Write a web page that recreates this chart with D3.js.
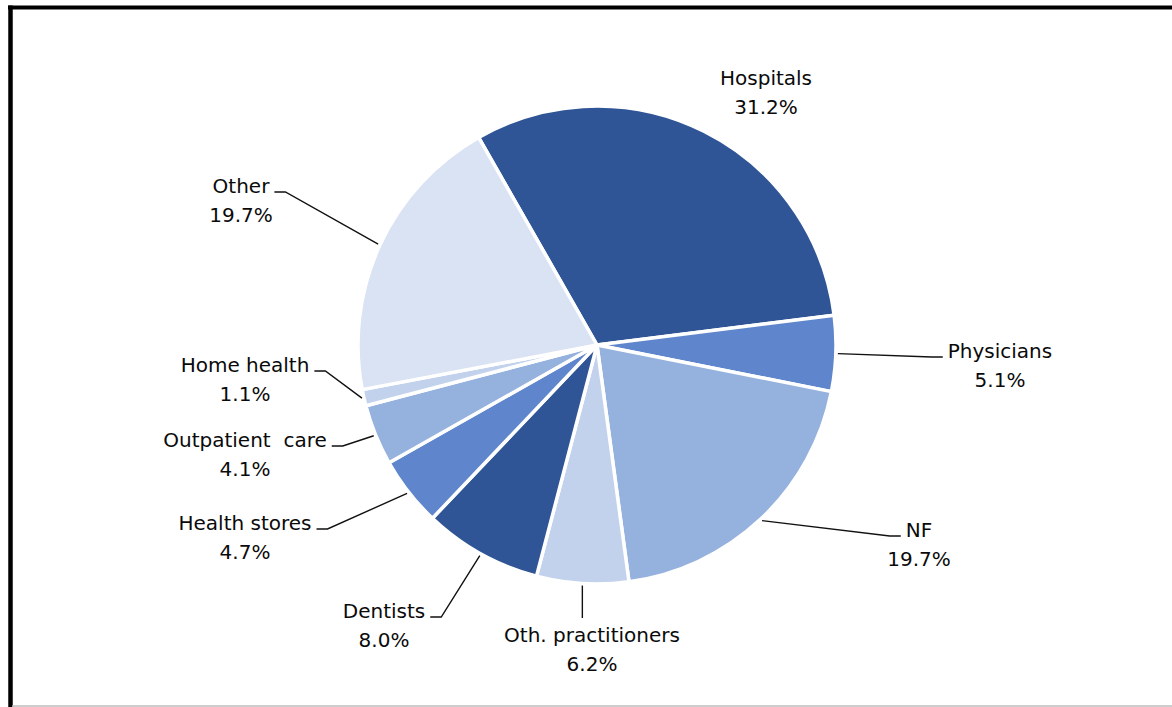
<!DOCTYPE html>
<html lang="en">
<head>
  <meta charset="UTF-8">
  <title>Spending by type of provider</title>
  <script src="https://d3js.org/d3.v7.min.js"></script>
  <style>
    body {
      margin: 0;
      background-color: #ffffff;
    }
    svg {
      display: block;
    }
    .label {
      font-family: "DejaVu Sans", Verdana, sans-serif;
      font-size: 20px;
      fill: #0a0a0a;
      white-space: pre;
    }
    .leader {
      fill: none;
      stroke: #111;
      stroke-width: 1.4;
    }
  </style>
</head>
<body>
  <svg id="chart"></svg>
  <script>
    // data, clockwise from the top
    const categories = ["Hospitals", "Physicians", "NF", "Oth. practitioners", "Dentists",
                        "Health stores", "Outpatient  care", "Home health", "Other"];
    const shares = [31.2, 5.1, 19.7, 6.2, 8.0, 4.7, 4.1, 1.1, 19.7];
    const colors = ["#2f5597", "#5f86cc", "#95b1de", "#c2d2ec", "#2f5597",
                    "#5f86cc", "#95b1de", "#c2d2ec", "#dae3f3"];

    // label layout: centre x and first baseline, relative to pie centre
    const labelX = [169, 403, 322, -5, -213, -352, -352, -352, -356];
    const labelY = [-260, 13, 192, 297, 273, 185, 102, 27, -152];
    const showLeader = [false, true, true, true, true, true, true, true, true];

    const svgWidth = 1172;
    const svgHeight = 707;
    const cx = 597, cy = 345;
    const radius = 239;
    const startDeg = -29.7;

    const svg = d3.select("#chart")
                  .attr("width", svgWidth)
                  .attr("height", svgHeight);

    // frame
    svg.append("line").attr("x1", 8).attr("x2", svgWidth).attr("y1", 7.5).attr("y2", 7.5)
       .attr("stroke", "#000").attr("stroke-width", 4);
    svg.append("line").attr("x1", 10.5).attr("x2", 10.5).attr("y1", 5.5).attr("y2", svgHeight)
       .attr("stroke", "#000").attr("stroke-width", 4.5);
    svg.append("line").attr("x1", 12).attr("x2", svgWidth).attr("y1", 706).attr("y2", 706)
       .attr("stroke", "#bdbdbd").attr("stroke-width", 1.5);

    const dataset = categories.map((c, i) => ({ name: c, value: shares[i], i }));

    const start = startDeg * Math.PI / 180;
    const pie = d3.pie()
                  .sort(null)
                  .value(d => d.value)
                  .startAngle(start)
                  .endAngle(start + 2 * Math.PI);

    const arc = d3.arc().innerRadius(0).outerRadius(radius);
    const arcs = pie(dataset);

    const g = svg.append("g").attr("transform", `translate(${cx}, ${cy})`);

    g.selectAll(".slice")
     .data(arcs)
     .enter()
     .append("path")
     .attr("class", "slice")
     .attr("d", arc)
     .attr("fill", d => colors[d.data.i])
     .attr("stroke", "#fff")
     .attr("stroke-width", 3.5)
     .attr("stroke-linejoin", "round");

    // labels
    const labels = g.selectAll(".label")
     .data(arcs)
     .enter()
     .append("text")
     .attr("class", "label")
     .attr("text-anchor", "middle");

    labels.append("tspan")
          .attr("x", d => labelX[d.data.i])
          .attr("y", d => labelY[d.data.i])
          .text(d => d.data.name);
    labels.append("tspan")
          .attr("x", d => labelX[d.data.i])
          .attr("y", d => labelY[d.data.i] + 29)
          .text(d => d.data.value.toFixed(1) + "%");

    // leader lines
    labels.each(function(d) {
      const i = d.data.i;
      if (!showLeader[i]) return;
      const mid = (d.startAngle + d.endAngle) / 2;
      const p0 = [Math.sin(mid) * (radius + 2), -Math.cos(mid) * (radius + 2)];
      const w = this.firstChild.getComputedTextLength();
      const lx = labelX[i], ly = labelY[i];
      let pts;
      if (Math.abs(lx) < 60) {
        pts = [p0, [p0[0], ly - 24]];
      } else {
        const side = lx > 0 ? 1 : -1;
        const endX = lx - side * (w / 2 + 5);
        const yy = ly - 1;
        pts = [p0, [endX - side * 11, yy], [endX, yy]];
      }
      g.append("path")
       .attr("class", "leader")
       .attr("d", d3.line()(pts));
    });
  </script>
</body>
</html>
